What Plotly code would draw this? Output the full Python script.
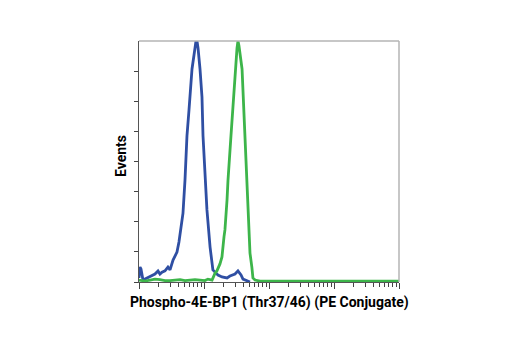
import plotly.graph_objects as go

# Blue histogram (control)
blue_x = [1.0, 1.036, 1.073, 1.152, 1.33, 1.585, 1.76, 1.96, 2.10, 2.26, 2.51, 2.79, 3.00,
          3.34, 3.58, 3.84, 4.12, 4.43, 4.75, 5.10, 5.47, 5.88, 6.54, 7.02, 7.53, 7.80, 8.09,
          8.68, 9.31, 9.66, 10.35, 11.1, 12.4, 13.3, 13.7, 14.8, 16.4, 18.9, 21.0, 22.6, 25.1,
          27.0, 30.0, 33.3, 35.8, 37.1, 39.8, 42.7, 47.5, 51.0]
blue_y = [1.7, 6.2, 5.4, 0.8, 1.7, 2.9, 3.3, 4.6, 3.3, 4.1, 4.6, 6.2, 5.0,
          9.1, 10.8, 12.4, 16.6, 22.4, 28.6, 42.3, 60.6, 71.4, 88.4, 94.2, 100, 100, 97.1,
          88.4, 76.8, 60.6, 44.4, 29.9, 14.5, 6.6, 5.0, 4.1, 2.9, 2.1, 1.7, 1.7, 2.5,
          2.9, 3.3, 4.6, 3.7, 2.9, 1.2, 0.8, 0.4, 0.0]

# Green histogram (stained)
green_x = [1.0, 1.24, 1.48, 1.76, 2.10, 2.51, 3.00, 3.58, 4.28, 5.10, 6.09, 7.27, 8.68,
           10.35, 11.5, 13.3, 14.8, 15.8, 17.6, 18.9, 20.3, 21.0, 22.6, 23.4, 26.0, 28.0,
           30.0, 32.2, 33.3, 34.5, 38.5, 42.7, 44.3, 45.9, 47.5, 51.0, 54.6, 56.6, 60.9,
           72.9, 300, 10000]
green_y = [0.8, 0.4, 0.8, 1.2, 1.0, 0.6, 0.6, 0.8, 1.0, 0.6, 0.8, 1.0, 0.8,
           0.6, 1.2, 0.8, 3.7, 4.6, 7.5, 10.4, 18.7, 21.6, 34.0, 42.3, 60.6, 74.0,
           88.4, 97.0, 100, 98.0, 88.4, 60.6, 50.0, 39.8, 25.0, 12.0, 6.0, 1.7, 0.8,
           0.4, 0.4, 0.4]

y_ticks = [0, 12.5, 25, 37.5, 50, 62.5, 75, 87.5]
x_major = [1, 10, 100, 1000, 10000]
x_minor = [k * 10 ** d for d in range(4) for k in range(2, 10)]

x_title = "Phospho-4E-BP1 (Thr37/46) (PE Conjugate)"
y_title = "Events"

FONT = "Roboto, Liberation Sans, Arial, sans-serif"

fig = go.Figure()
fig.add_trace(go.Scatter(x=blue_x, y=blue_y, mode="lines",
                         line=dict(color="#2f4fa3", width=2.8)))
fig.add_trace(go.Scatter(x=green_x, y=green_y, mode="lines",
                         line=dict(color="#3db54a", width=2.8)))

fig.update_layout(
    width=520, height=350,
    margin=dict(l=139, r=121, t=41, b=68),
    paper_bgcolor="white", plot_bgcolor="white",
    showlegend=False,
    font=dict(family=FONT, color="black"),
    xaxis=dict(
        type="log", range=[0, 4],
        tickmode="array", tickvals=x_major, showticklabels=False,
        ticks="outside", ticklen=6, tickcolor="#444", tickwidth=1,
        minor=dict(tickmode="array", tickvals=x_minor, ticks="outside",
                   ticklen=4, tickcolor="#444", tickwidth=1),
        showline=True, linecolor="#555", linewidth=1.2,
        showgrid=False, zeroline=False,
    ),
    yaxis=dict(
        range=[0, 100],
        tickmode="array", tickvals=y_ticks, showticklabels=False,
        ticks="outside", ticklen=4, tickcolor="#444", tickwidth=1,
        showline=True, linecolor="#555", linewidth=1.2,
        showgrid=False, zeroline=False,
    ),
    shapes=[
        dict(type="line", xref="paper", yref="paper", x0=0, x1=1, y0=1, y1=1,
             line=dict(color="#b4b4b4", width=1.5)),
        dict(type="line", xref="paper", yref="paper", x0=1, x1=1, y0=0, y1=1,
             line=dict(color="#b4b4b4", width=1.5)),
    ],
    annotations=[
        dict(text="<b>" + x_title + "</b>", xref="paper", yref="paper",
             x=0.5, y=-0.083, xanchor="center", yanchor="middle",
             showarrow=False, font=dict(size=14, family=FONT)),
        dict(text="<b>" + y_title + "</b>", xref="paper", yref="paper",
             x=-0.069, y=0.523, xanchor="center", yanchor="middle", textangle=-90,
             showarrow=False, font=dict(size=14, family=FONT)),
    ],
)

fig.write_html("out.html")
